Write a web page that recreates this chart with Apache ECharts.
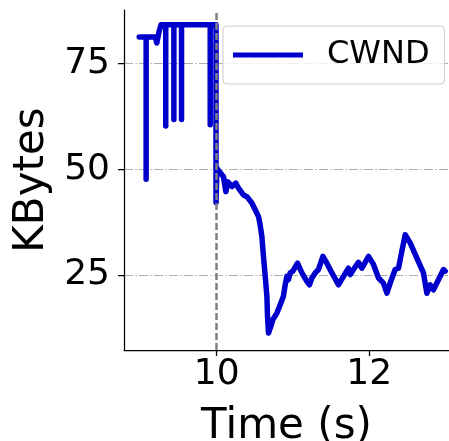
<!DOCTYPE html>
<html>
<head>
<meta charset="utf-8">
<script src="https://cdn.jsdelivr.net/npm/echarts@6/dist/echarts.min.js"></script>
<style>
  html, body { margin: 0; padding: 0; background: #fff; }
  #charts { width: 449px; height: 441px; }
</style>
</head>
<body>
<div id="charts"></div>
<script>
// 数据：时间(s) 与 CWND(KBytes)
var times = [
  8.985, 9.075, 9.075, 9.075, 9.195, 9.215, 9.245, 9.27,
  9.332, 9.332, 9.332, 9.439, 9.439, 9.439, 9.539, 9.539, 9.539,
  9.915, 9.915, 9.915, 9.991, 9.991,
  10.003, 10.089, 10.12, 10.147, 10.2, 10.25, 10.286, 10.351, 10.396, 10.461,
  10.505, 10.548, 10.57, 10.592, 10.613, 10.636, 10.658, 10.666, 10.679, 10.71,
  10.737, 10.789, 10.841, 10.875, 10.898, 10.92, 10.941, 10.963, 10.999, 11.059,
  11.117, 11.182, 11.216, 11.248, 11.291, 11.334, 11.392, 11.444, 11.51, 11.596,
  11.662, 11.727, 11.75, 11.793, 11.858, 11.903, 11.99, 12.055, 12.121, 12.186,
  12.231, 12.274, 12.339, 12.383, 12.427, 12.471, 12.536, 12.624, 12.71, 12.755,
  12.798, 12.841, 12.907, 12.972, 12.995
];
var cwnd = [
  81.2, 81.2, 47.6, 81.2, 81.2, 79.8, 82.5, 84.1,
  84.1, 60.2, 84.1, 84.1, 61.7, 84.1, 84.1, 61.7, 84.1,
  84.1, 60.5, 84.1, 84.1, 42.1,
  50.2, 48.2, 44.7, 47.0, 45.9, 46.7, 45.5, 43.9, 43.5, 42.0,
  40.4, 38.8, 36.8, 34.1, 29.4, 24.7, 20.0, 15.2, 11.3, 12.9,
  14.5, 16.0, 18.4, 20.0, 22.7, 24.7, 23.9, 25.5, 25.9, 27.8,
  25.5, 23.5, 22.7, 24.3, 25.5, 26.3, 29.4, 27.8, 25.5, 22.7,
  24.7, 26.6, 25.1, 26.3, 28.0, 26.6, 29.4, 27.5, 24.3, 23.1,
  20.7, 23.1, 26.3, 26.6, 30.6, 34.5, 32.6, 29.0, 25.5, 20.7,
  22.7, 21.5, 23.9, 26.3, 25.9
];
var xTicks = [10, 12];
var yTicks = [25, 50, 75];
var markTime = 10;

var myChart = echarts.init(document.getElementById('charts'));

var points = times.map(function (t, i) { return [t, cwnd[i]]; });
var font = 'DejaVu Sans';

option = {
  animation: false,
  grid: { left: 124, right: 0, top: 10, bottom: 91, outerBoundsMode: 'none', containLabel: false },
  legend: {
    data: [{ name: 'CWND', icon: 'rect' }],
    left: 223,
    top: 26,
    itemWidth: 70,
    itemHeight: 5,
    padding: [13, 15, 13, 10],
    backgroundColor: 'rgba(255,255,255,0.8)',
    borderColor: '#cccccc',
    borderWidth: 1,
    borderRadius: 4,
    textStyle: { fontFamily: font, fontSize: 32, color: '#000', padding: [0, 0, 0, 19] }
  },
  xAxis: {
    type: 'value',
    min: 8.785,
    max: 13.045,
    name: 'Time (s)',
    nameLocation: 'middle',
    nameGap: 56,
    nameTextStyle: { fontFamily: font, fontSize: 42, color: '#000' },
    axisLine: { show: true, onZero: false, lineStyle: { color: '#000', width: 1.25 } },
    axisTick: { show: true, length: 6, customValues: xTicks, lineStyle: { color: '#000', width: 1.25 } },
    axisLabel: { customValues: xTicks, margin: 7, fontFamily: font, fontSize: 36, color: '#000' },
    splitLine: { show: false }
  },
  yAxis: {
    type: 'value',
    min: 7.29,
    max: 87.59,
    name: 'KBytes',
    nameLocation: 'middle',
    nameGap: 62,
    nameTextStyle: { fontFamily: font, fontSize: 42, color: '#000' },
    axisLine: { show: true, onZero: false, lineStyle: { color: '#000', width: 1.25 } },
    axisTick: { show: true, length: 6, customValues: yTicks, lineStyle: { color: '#000', width: 1.25 } },
    axisLabel: { customValues: yTicks, margin: 14, fontFamily: font, fontSize: 36, color: '#000' },
    splitLine: { show: true, lineStyle: { color: '#b0b0b0', width: 1, type: [9, 2.5, 1.5, 2] } }
  },
  series: [
    {
      name: 'CWND',
      type: 'line',
      data: points,
      showSymbol: false,
      color: '#0000cd',
      lineStyle: { color: '#0000cd', width: 5.5, cap: 'round', join: 'round' },
      z: 2,
      markLine: {
        silent: true,
        symbol: 'none',
        label: { show: false },
        lineStyle: { color: '#808080', width: 2.5, type: [7, 3] },
        data: [{ xAxis: markTime }],
        z: 5
      }
    }
  ]
};

myChart.setOption(option);
</script>
</body>
</html>
